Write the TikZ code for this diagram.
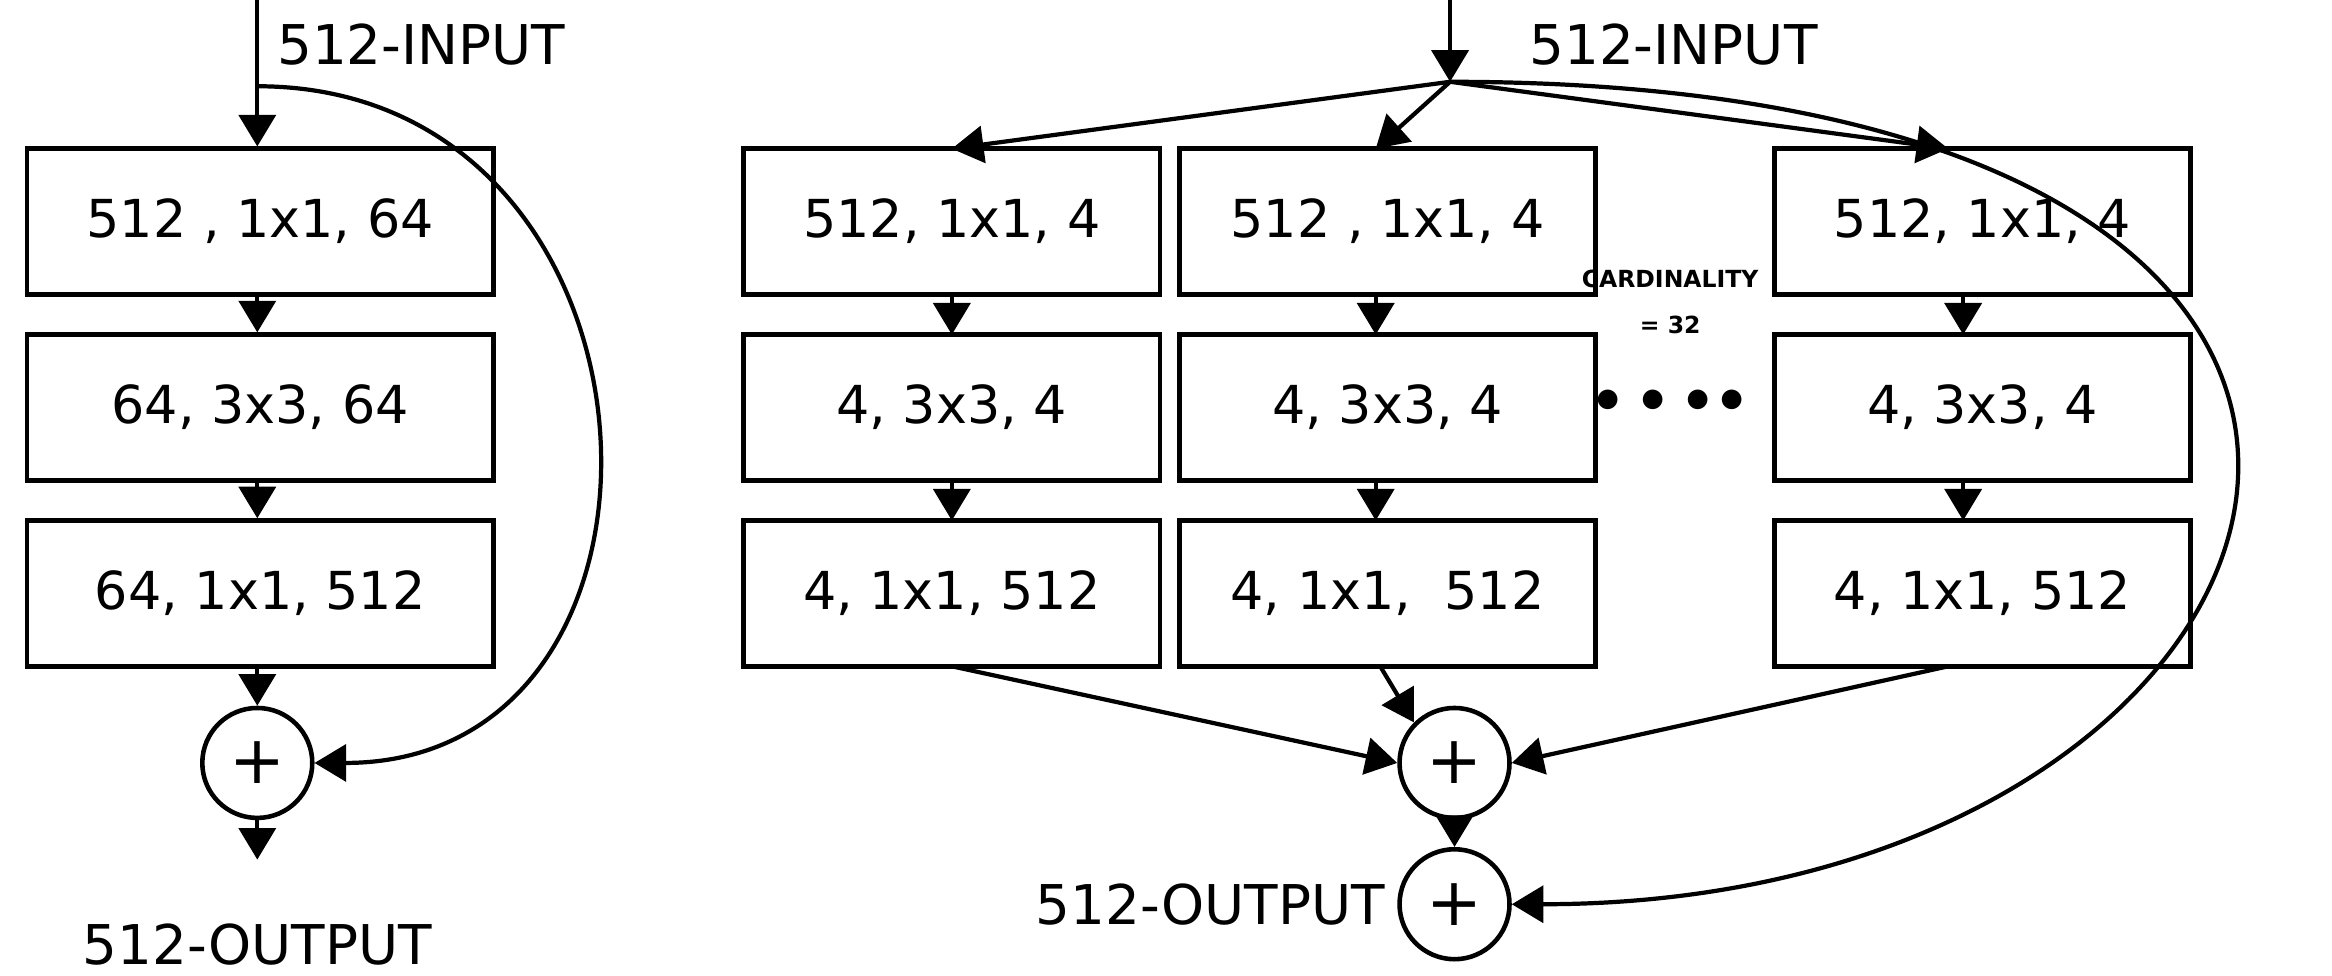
\documentclass[tikz,border=0pt]{standalone}
\usepackage{fontspec}
\setmainfont{DejaVu Sans}
\usetikzlibrary{arrows.meta}
\begin{document}
\begin{tikzpicture}[x=0.01487cm,y=-0.01487cm,
  box/.style={draw,line width=1.3pt,minimum width=4.164cm,minimum height=1.457cm,inner sep=0,font=\fontsize{14.9}{17}\selectfont},
  lbox/.style={box,minimum width=4.67cm},
  sum/.style={draw,circle,line width=1.3pt,minimum size=1.1cm,inner sep=0,font=\fontsize{19}{19}\selectfont},
  arr/.style={line width=1.2pt,-{Triangle[length=9pt,width=10.5pt]}},
  lab/.style={font=\fontsize{15.6}{18}\selectfont}]
\useasboundingbox (0,0) rectangle (1568,656);
% left
\node[lbox] (l1) at (175,149) {512 , 1x1, 64};
\node[lbox] (l2) at (175,274) {64, 3x3, 64};
\node[lbox] (l3) at (175,399) {64, 1x1, 512};
\node[sum] (ls) at (173,513) {+};
\coordinate (lin) at (173,0);
\coordinate (lsp) at (173,58);
\coordinate (lout) at (173,578);
\node[lab,anchor=west] (lit) at (178,30) {512-INPUT};
\node[lab] (lot) at (173,635) {512-OUTPUT};
\draw[arr] (lin) -- (l1.north -| lin);
\draw[arr] (l1.south -| lin) -- (l2.north -| lin);
\draw[arr] (l2.south -| lin) -- (l3.north -| lin);
\draw[arr] (l3.south -| lin) -- (ls.north);
\draw[arr] (ls.south) -- (lout);
\draw[arr] (lsp) .. controls (460,58) and (480,513) .. (ls.east);
% right
\foreach \c/\x/\a/\b/\d in {a/640/{512, 1x1, 4}/{4, 3x3, 4}/{4, 1x1, 512},
  b/933/{512 , 1x1, 4}/{4, 3x3, 4}/{4, 1x1,\ \ 512},
  c/1333/{512, 1x1, 4}/{4, 3x3, 4}/{4, 1x1, 512}}{
  \node[box] (\c1) at (\x,149) {\a};
  \node[box] (\c2) at (\x,274) {\b};
  \node[box] (\c3) at (\x,399) {\d};
}
\foreach \c/\x in {a/640,b/925,c/1320}{
  \draw[arr] (\x,198) -- (\x,225);
  \draw[arr] (\x,323) -- (\x,350);
}
\node[sum] (s1) at (978,513) {+};
\node[sum] (s2) at (978,608) {+};
\coordinate (rin) at (975,0);
\coordinate (rsp) at (975,55);
\node[lab,anchor=west] (rit) at (1020,30) {512-INPUT};
\node[lab,anchor=east] (rot) at (s2.west) {512-OUTPUT};
\draw[arr] (rin) -- (rsp);
\draw[arr] (rsp) -- (640,100);
\draw[arr] (rsp) -- (925,100);
\draw[arr] (rsp) -- (1310,100);
\draw[arr] (640,448) -- (s1.west);
\draw[arr] (928,448) -- (s1.north west);
\draw[arr] (1310,448) -- (s1.east);
\draw[arr] (s1.south) -- (s2.north);
\draw[arr] (rsp) .. controls (1760,55) and (1580,608) .. (s2.east);
\node[font=\bfseries\fontsize{6.7}{9}\selectfont,align=center] (card) at (1123,203) {CARDINALITY\\[4pt]= 32};
\node[font=\fontsize{14.9}{15}\selectfont] (dots) at (1123,270) {$\bullet\,\bullet\,\bullet\,\bullet$};
\end{tikzpicture}
\end{document}
